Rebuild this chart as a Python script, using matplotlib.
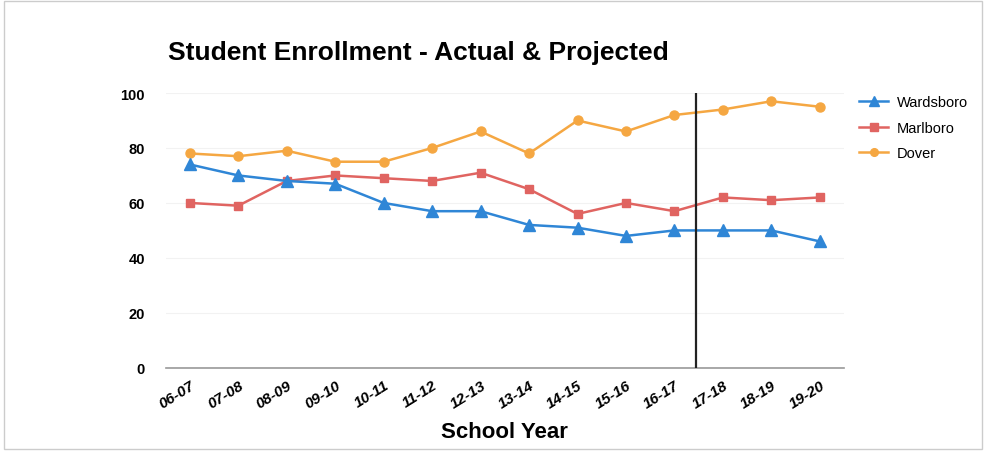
import matplotlib
matplotlib.use("Agg")
import matplotlib.pyplot as plt
from matplotlib.patches import Rectangle

years = ["06-07", "07-08", "08-09", "09-10", "10-11", "11-12", "12-13",
         "13-14", "14-15", "15-16", "16-17", "17-18", "18-19", "19-20"]
wardsboro = [74, 70, 68, 67, 60, 57, 57, 52, 51, 48, 50, 50, 50, 46]
marlboro = [60, 59, 68, 70, 69, 68, 71, 65, 56, 60, 57, 62, 61, 62]
dover = [78, 77, 79, 75, 75, 80, 86, 78, 90, 86, 92, 94, 97, 95]
split_at = 10.5  # boundary between actual and projected

plt.rcParams['font.family'] = ['Liberation Sans', 'DejaVu Sans']

fig = plt.figure(figsize=(9.86, 4.52), dpi=100)
ax = fig.add_axes([0.168, 0.184, 0.688, 0.608])

x = list(range(len(years)))
ax.plot(x, dover, color="#f5a742", marker="o", markersize=6.5, lw=1.8, label="Dover", zorder=3)
ax.plot(x, marlboro, color="#e06461", marker="s", markersize=6, lw=1.8, label="Marlboro", zorder=4)
ax.plot(x, wardsboro, color="#2f86d6", marker="^", markersize=8, lw=1.8, label="Wardsboro", zorder=5)

ax.axvline(split_at - 0.05, color="#222222", lw=1.6, zorder=6)

ax.set_xlim(-0.5, len(years) - 0.5)
ax.set_ylim(0, 100)
ax.set_yticks([0, 20, 40, 60, 80, 100])
ax.set_xticks(x)
ax.set_xticklabels(years, rotation=32, ha="right", rotation_mode="anchor",
                   fontsize=11, fontweight="bold", fontstyle="italic")
for lab in ax.get_yticklabels():
    lab.set_fontweight("bold")
    lab.set_fontsize(10.5)
ax.tick_params(axis="y", length=0, pad=15)
ax.tick_params(axis="x", length=0, pad=7)
ax.grid(axis="y", color="#f2f2f2", lw=0.8)
for s in ["top", "right", "left"]:
    ax.spines[s].set_visible(False)
ax.spines["bottom"].set_color("#999999")
ax.spines["bottom"].set_linewidth(1.2)

ax.set_xlabel("School Year", fontsize=16, fontweight="bold", labelpad=8)
fig.text(0.170, 0.882, "Student Enrollment - Actual & Projected", fontsize=19,
         fontweight="bold", ha="left", va="center")

handles, labels = ax.get_legend_handles_labels()
order = [2, 1, 0]
leg = ax.legend([handles[i] for i in order], [labels[i] for i in order],
                loc="upper left", bbox_to_anchor=(1.003, 1.04), frameon=False,
                fontsize=10.5, handlelength=2.0, handletextpad=0.6,
                labelspacing=0.8, markerscale=0.85)

fig.patches.append(Rectangle((0.004, 0.004), 0.992, 0.992, transform=fig.transFigure,
                             fill=False, edgecolor="#cccccc", lw=1))

fig.savefig("out.png", dpi=100)
